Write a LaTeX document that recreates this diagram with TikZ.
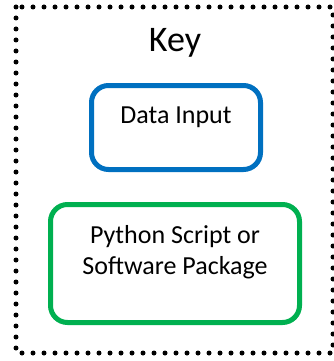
\documentclass[tikz,border=0pt]{standalone}
\usepackage{fontspec}
\setmainfont{Carlito}
\definecolor{keyblue}{HTML}{0070C0}
\definecolor{keygreen}{HTML}{00B050}
\begin{document}
\begin{tikzpicture}[x=1pt,y=-1pt,
  frame/.style={draw=black,line width=5pt,line cap=round,dash pattern=on 0pt off 11pt},
  keybox/.style={draw,line width=5pt,rounded corners=17pt,inner sep=0pt},
  lbl/.style={font=\fontsize{26}{31.5}\selectfont,anchor=base,inner sep=0pt,align=center}]
\useasboundingbox (0,0) rectangle (334,361);
\draw[frame] (16,7) rectangle (333,353);
\node[anchor=base,inner sep=0pt,font=\fontsize{36}{43}\selectfont] (key) at (175,52) {Key};
\node[keybox,draw=keyblue,minimum width=169pt,minimum height=84pt] (datain) at (176,127.5) {};
\node[lbl] (datatxt) at (176,123) {Data Input};
\node[keybox,draw=keygreen,minimum width=249pt,minimum height=118pt] (pybox) at (175,263.5) {};
\node[lbl] (pytxt1) at (175,243) {Python Script or};
\node[lbl] (pytxt2) at (175,274) {Software Package};
\end{tikzpicture}
\end{document}
